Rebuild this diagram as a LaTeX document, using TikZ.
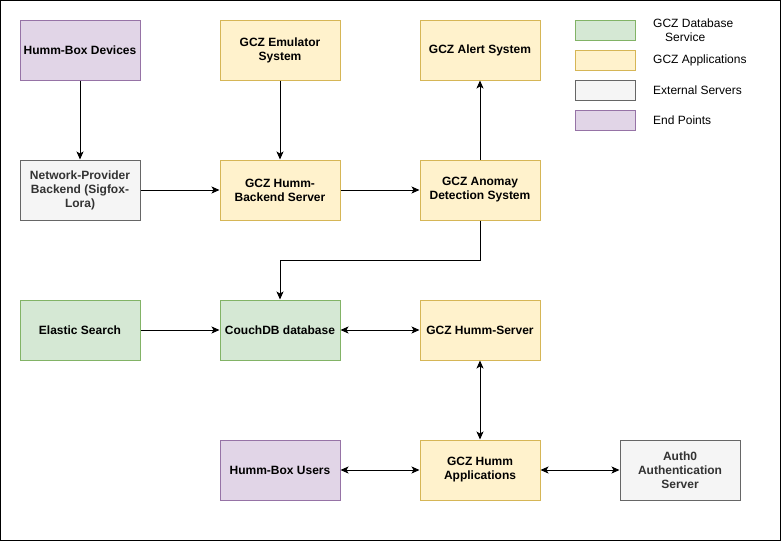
\documentclass[tikz,border=0pt]{standalone}
\usepackage{fontspec}
\setmainfont{Liberation Sans}
\usetikzlibrary{arrows.meta}
\definecolor{dbfill}{HTML}{D5E8D4}
\definecolor{dbline}{HTML}{82B366}
\definecolor{appfill}{HTML}{FFF2CC}
\definecolor{appline}{HTML}{D6B656}
\definecolor{extfill}{HTML}{F5F5F5}
\definecolor{extline}{HTML}{666666}
\definecolor{extText}{HTML}{333333}
\definecolor{endfill}{HTML}{E1D5E7}
\definecolor{endline}{HTML}{9673A6}

\begin{document}
\begin{tikzpicture}[x=1pt, y=-1pt,
	box/.style 2 args={
		rectangle,
		draw=#1,
		fill=#2,
		line width=1pt,
		minimum width=120pt,
		minimum height=60pt,
		inner sep=0pt,
		align=center,
		font=\fontsize{12}{14}\selectfont\bfseries},
	key/.style 2 args={
		rectangle,
		draw=#1,
		fill=#2,
		line width=1pt,
		minimum width=60pt,
		minimum height=20pt,
		inner sep=0pt},
	link/.style={line width=1pt, -{Stealth[length=8pt,width=7pt,inset=2pt]}},
	both/.style={line width=1pt, {Stealth[length=8pt,width=7pt,inset=2pt]}-{Stealth[length=8pt,width=7pt,inset=2pt]}}]
	% frame
	\useasboundingbox (0,0) rectangle (781,541);
	\draw[line width=1pt] (0.5,0.5) rectangle (780.5,540.5);
	% draw top row
	\node[box={endline}{endfill}] (devices) at (80, 50) {Humm-Box Devices};
	\node[box={appline}{appfill}] (emulator) at (280, 50) {GCZ Emulator\\System};
	\node[box={appline}{appfill}] (alert) at (480, 50) {GCZ Alert System};
	% draw second row
	\node[box={extline}{extfill}, text=extText] (provider) at (80, 190) {Network-Provider\\Backend (Sigfox-\\Lora)};
	\node[box={appline}{appfill}] (backend) at (280, 190) {GCZ Humm-\\Backend Server};
	\node[box={appline}{appfill}] (anomaly) at (480, 190) {GCZ Anomay\\Detection System};
	% draw third row
	\node[box={dbline}{dbfill}] (elastic) at (80, 330) {Elastic Search};
	\node[box={dbline}{dbfill}] (couch) at (280, 330) {CouchDB database};
	\node[box={appline}{appfill}] (server) at (480, 330) {GCZ Humm-Server};
	% draw bottom row
	\node[box={endline}{endfill}] (users) at (280, 470) {Humm-Box Users};
	\node[box={appline}{appfill}] (apps) at (480, 470) {GCZ Humm\\Applications};
	\node[box={extline}{extfill}, text=extText] (auth) at (680, 470) {Auth0\\Authentication\\Server};
	% draw legend
	\foreach \c/\f/\t [count=\i from 0] in {dbline/dbfill/{GCZ Database\\\quad Service}, appline/appfill/GCZ Applications, extline/extfill/External Servers, endline/endfill/End Points} {
		\node[key={\c}{\f}] (k\i) at (605, 30+30*\i) {};
		\node[anchor=west, align=left, font=\fontsize{12}{14}\selectfont, inner sep=0pt] (t\i) at (653, 30+30*\i) {\t};
	}
	% draw links
	\draw[link] (devices) -- (provider);
	\draw[link] (emulator) -- (backend);
	\draw[link] (provider) -- (backend);
	\draw[link] (backend) -- (anomaly);
	\draw[link] (anomaly) -- (alert);
	\draw[link] (anomaly.south) |- (280, 260) -- (couch.north);
	\draw[link] (elastic) -- (couch);
	\draw[both] (couch) -- (server);
	\draw[both] (server) -- (apps);
	\draw[both] (users) -- (apps);
	\draw[both] (apps) -- (auth);
\end{tikzpicture}
\end{document}
